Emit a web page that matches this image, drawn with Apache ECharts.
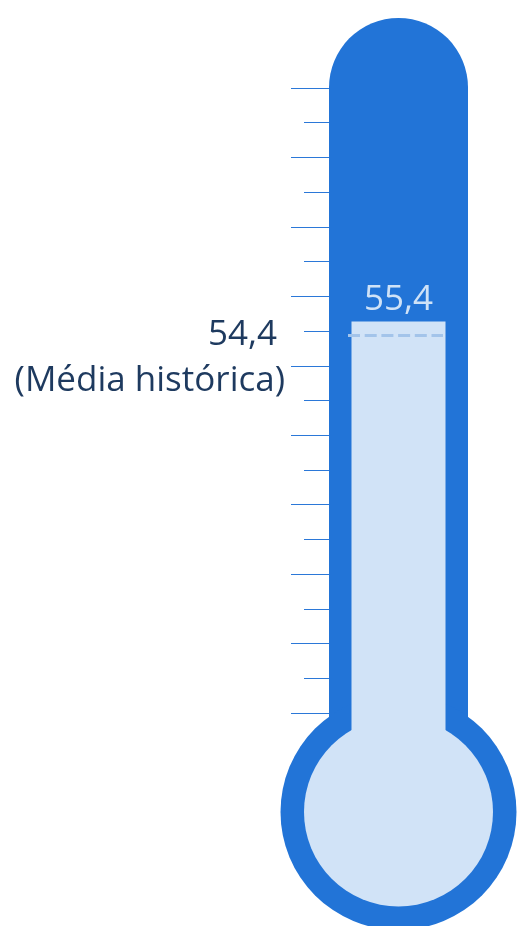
<!DOCTYPE html>
<html>
<head>
<meta charset="utf-8">
<script src="https://cdn.jsdelivr.net/npm/echarts@6/dist/echarts.min.js"></script>
<style>
  html, body { margin: 0; padding: 0; background: #fff; }
  #chart { width: 517px; height: 926px; }
</style>
</head>
<body>
<div id="chart"></div>
<script>
// dados
const categorias = ['Atual'];
const valorAtual = [55.4];
const mediaHistorica = [54.4];
const escala = [20, 77.3];   // centro do bulbo .. topo do tubo
const regua = [0, 18];       // régua decorativa, 18 divisões

const azul = '#2274d7';
const claro = '#d1e3f7';
const fonte = '"Open Sans", "Noto Sans", sans-serif';
const fmt = v => String(v).replace('.', ',');

const chart = echarts.init(document.getElementById('chart'));

let option = {
    animation: false,
    grid: [
        { left: 329, width: 139, top: 18, bottom: 114 },  // termometro
        { left: 329, width: 139, top: 88, bottom: 213 },  // regua
        { left: 348, width: 95, top: 18, bottom: 114 }    // linha da media
    ],
    xAxis: [
        { type: 'category', data: categorias, gridIndex: 0, show: false },
        { type: 'category', data: categorias, gridIndex: 0, show: false },
        { type: 'category', data: categorias, gridIndex: 1, show: false },
        { type: 'value', min: 0, max: 1, gridIndex: 2, show: false }
    ],
    yAxis: [
        { type: 'value', min: escala[0], max: escala[1], gridIndex: 0, show: false },
        {
            type: 'value', min: regua[0], max: regua[1], interval: 2, gridIndex: 1,
            axisLine: { show: false },
            axisLabel: { show: false },
            splitLine: { show: false },
            axisTick: { show: true, length: 38, lineStyle: { color: '#2b78d8', width: 1 } },
            minorTick: { show: true, splitNumber: 2, length: 25, lineStyle: { color: '#2b78d8', width: 1 } }
        },
        { type: 'value', min: escala[0], max: escala[1], gridIndex: 2, show: false }
    ],
    series: [
        {
            // tubo
            type: 'bar', xAxisIndex: 1, yAxisIndex: 0, z: 1, silent: true,
            data: [escala[1]], barWidth: 139,
            itemStyle: { color: azul, borderRadius: [69.5, 69.5, 0, 0] }
        },
        {
            // bulbo externo
            type: 'scatter', xAxisIndex: 0, yAxisIndex: 0, z: 2, silent: true, clip: false,
            data: [escala[0]], symbolSize: 236,
            itemStyle: { color: azul, opacity: 1 }
        },
        {
            // bulbo interno
            type: 'scatter', xAxisIndex: 0, yAxisIndex: 0, z: 3, silent: true, clip: false,
            data: [escala[0]], symbolSize: 189,
            itemStyle: { color: claro, opacity: 1 }
        },
        {
            // valor atual
            type: 'bar', xAxisIndex: 0, yAxisIndex: 0, z: 4, silent: true,
            data: valorAtual, barWidth: 94,
            itemStyle: { color: claro },
            label: {
                show: true, position: 'top', distance: 4,
                color: '#cfe2f7', fontSize: 35, fontFamily: fonte,
                formatter: p => fmt(p.value)
            }
        },
        {
            // media historica
            type: 'line', xAxisIndex: 3, yAxisIndex: 2, z: 5, silent: true,
            data: [],
            markLine: {
                silent: true, symbol: 'none', animation: false,
                lineStyle: { type: [12, 4.7], color: '#a3c4ea', width: 3 },
                label: {
                    show: true, position: 'start', distance: 63,
                    formatter: p => '{a|' + fmt(p.value) + '}\n{b|(Média histórica)}',
                    offset: [0, 23],
                    rich: {
                        a: { fontSize: 35, fontFamily: fonte, color: '#1e3a5f', lineHeight: 46, padding: [0, 8, 0, 0] },
                        b: { fontSize: 35, fontFamily: fonte, color: '#1e3a5f', lineHeight: 46 }
                    }
                },
                data: [{ yAxis: mediaHistorica[0] }]
            }
        }
    ]
};

chart.setOption(option);
window.addEventListener('resize', chart.resize);
</script>
</body>
</html>
